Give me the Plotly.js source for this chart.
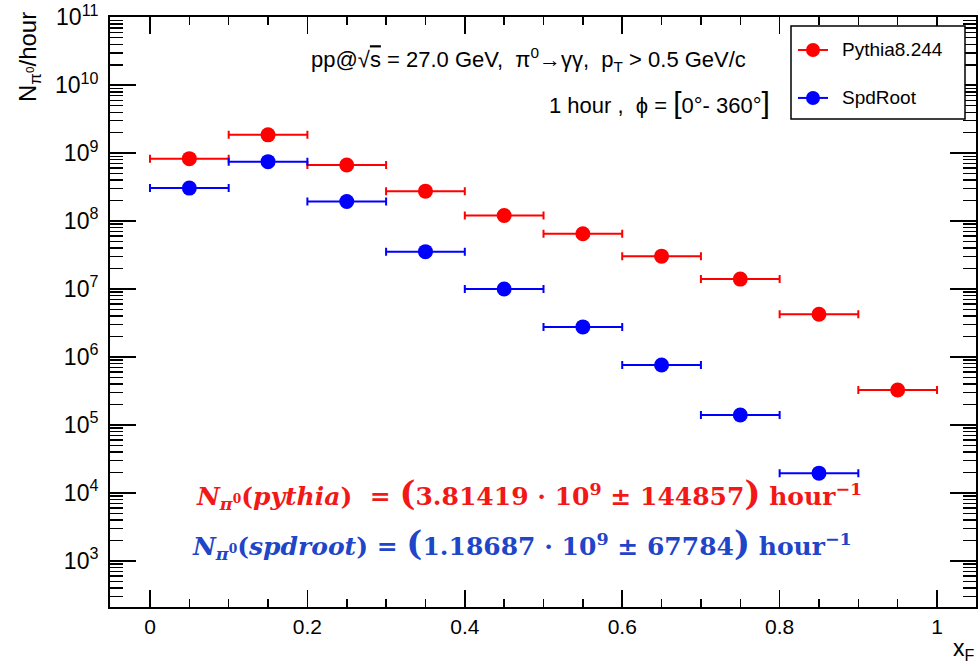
<!DOCTYPE html>
<html>
<head>
<meta charset="utf-8">
<script src="https://cdn.plot.ly/plotly-3.0.1.min.js"></script>
<style>html,body{margin:0;padding:0;background:#fff;}</style>
</head>
<body>
<div id="chart" style="width:979px;height:664px;"></div>
<script>
// ---- data ----
const xF = [0.05, 0.15, 0.25, 0.35, 0.45, 0.55, 0.65, 0.75, 0.85, 0.95];
const binHalfWidth = 0.05;
const pythia = [8.3e8, 1.86e9, 6.7e8, 2.76e8, 1.21e8, 6.5e7, 3.05e7, 1.4e7, 4.25e6, 3.27e5];
const xFspd = [0.05, 0.15, 0.25, 0.35, 0.45, 0.55, 0.65, 0.75, 0.85];
const spdroot = [3.06e8, 7.5e8, 1.94e8, 3.55e7, 1.0e7, 2.77e6, 7.6e5, 1.4e5, 1.95e4];
const seriesNames = ["Pythia8.244", "SpdRoot"];
const xTickVals = [0, 0.2, 0.4, 0.6, 0.8, 1];
const xTickText = ["0", "0.2", "0.4", "0.6", "0.8", "1"];
const yExponents = [3, 4, 5, 6, 7, 8, 9, 10, 11];
const yTickVals = yExponents.map(e => Math.pow(10, e));
const yTickText = yExponents.map(e => '10<sup>' + e + '</sup>');

// ---- layout geometry ----
const W = 979, H = 664;
const M = {l: 110, r: 3, t: 17, b: 56.5};
const PW = W - M.l - M.r, PH = H - M.t - M.b;
const px = x => (x - M.l) / PW;
const py = y => (H - M.b - y) / PH;

const FONT = '"Liberation Sans", Arial, sans-serif';
const SERIF = '"DejaVu Serif", "Liberation Serif", serif';
const RED = '#ff0000', BLUE = '#0000ff';

function series(x, y, color, name) {
  return {
    type: 'scatter', mode: 'markers', name: name, showlegend: false,
    x: x, y: y,
    marker: {color: color, size: 15, symbol: 'circle'},
    error_x: {type: 'constant', value: binHalfWidth, color: color, thickness: 2, width: 4}
  };
}

const traces = [
  series(xF, pythia, RED, seriesNames[0]),
  series(xFspd, spdroot, BLUE, seriesNames[1])
];

// manual ROOT-style legend
const legBox = {x0: px(791), x1: px(965), y0: py(119), y1: py(26)};
const legRows = [{y: 50, c: RED, t: seriesNames[0]}, {y: 98, c: BLUE, t: seriesNames[1]}];
const shapes = [{type: 'rect', xref: 'paper', yref: 'paper', x0: legBox.x0, x1: legBox.x1, y0: legBox.y0, y1: legBox.y1,
  line: {color: '#000', width: 1.5}, fillcolor: '#fff', layer: 'above'}];
const annotations = [];
legRows.forEach(r => {
  shapes.push({type: 'line', xref: 'paper', yref: 'paper', x0: px(798), x1: px(828), y0: py(r.y), y1: py(r.y),
    line: {color: r.c, width: 2}, layer: 'above'});
  shapes.push({type: 'circle', xref: 'paper', yref: 'paper', x0: px(806), x1: px(820), y0: py(r.y + 7), y1: py(r.y - 7),
    line: {color: r.c, width: 0}, fillcolor: r.c, layer: 'above'});
  annotations.push({xref: 'paper', yref: 'paper', x: px(840), y: py(r.y), xanchor: 'left', yanchor: 'middle',
    text: r.t, showarrow: false, font: {family: FONT, size: 19, color: '#000'}});
});

annotations.push(
  {xref: 'paper', yref: 'paper', x: px(29), y: py(10), xanchor: 'center', yanchor: 'top', textangle: -90,
   text: 'N<sub>π<sup>0</sup></sub>/hour', showarrow: false, font: {family: FONT, size: 24, color: '#000'}},
  {xref: 'paper', yref: 'paper', x: px(977), y: py(650), xanchor: 'right', yanchor: 'middle',
   text: 'x<sub>F</sub>', showarrow: false, font: {family: FONT, size: 23, color: '#000'}},
  {xref: 'paper', yref: 'paper', x: px(528), y: py(60), xanchor: 'center', yanchor: 'middle',
   text: 'pp@√<span style="text-decoration:overline">s</span> = 27.0 GeV,  π<sup>0</sup>→γγ,  p<sub>T</sub> > 0.5 GeV/c',
   showarrow: false, font: {family: FONT, size: 22, color: '#000'}},
  {xref: 'paper', yref: 'paper', x: px(772), y: py(103), xanchor: 'right', yanchor: 'middle',
   text: '1 hour ,  ϕ = <span style="font-size:30px">[</span>0°- 360°<span style="font-size:30px">]</span>',
   showarrow: false, font: {family: FONT, size: 22, color: '#000'}},
  {xref: 'paper', yref: 'paper', x: px(529), y: py(494), xanchor: 'center', yanchor: 'middle',
   text: '<b><i>N</i><sub><i>π</i><sup>0</sup></sub>(<i>pythia</i>)  = <span style="font-size:34px">(</span>3.81419 · 10<sup>9</sup> ± 144857<span style="font-size:34px">)</span> hour<sup>−1</sup></b>',
   showarrow: false, font: {family: SERIF, size: 25, color: '#f21818'}},
  {xref: 'paper', yref: 'paper', x: px(522), y: py(544), xanchor: 'center', yanchor: 'middle',
   text: '<b><i>N</i><sub><i>π</i><sup>0</sup></sub>(<i>spdroot</i>) = <span style="font-size:34px">(</span>1.18687 · 10<sup>9</sup> ± 67784<span style="font-size:34px">)</span> hour<sup>−1</sup></b>',
   showarrow: false, font: {family: SERIF, size: 25, color: '#1f45c8'}}
);

const layout = {
  width: W, height: H,
  margin: M,
  paper_bgcolor: '#fff', plot_bgcolor: '#fff',
  showlegend: false,
  font: {family: FONT, size: 20, color: '#000'},
  xaxis: {
    range: [-0.0508, 1.0495], showgrid: false, zeroline: false,
    showline: true, linecolor: '#000', linewidth: 2, mirror: 'allticks',
    ticks: 'inside', ticklen: 17, tickwidth: 1.5, tickcolor: '#000',
    tickmode: 'array', tickvals: xTickVals, ticktext: xTickText,
    tickfont: {family: FONT, size: 21},
    minor: {ticks: 'inside', ticklen: 8, tickwidth: 1.5, tickcolor: '#000', dtick: 0.05, tick0: 0, showgrid: false}
  },
  yaxis: {
    type: 'log', range: [2.32, 11.004], showgrid: false, zeroline: false,
    showline: true, linecolor: '#000', linewidth: 2, mirror: 'allticks',
    ticks: 'inside', ticklen: 26, tickwidth: 1.5, tickcolor: '#000',
    tickmode: 'array', tickvals: yTickVals, ticktext: yTickText,
    ticklabeloverflow: 'allow', ticklabelstandoff: 5,
    tickfont: {family: FONT, size: 23},
    minor: {ticks: 'inside', ticklen: 13, tickwidth: 1.5, tickcolor: '#000', dtick: 'D1', showgrid: false}
  },
  shapes: shapes,
  annotations: annotations
};

Plotly.newPlot('chart', traces, layout, {displayModeBar: false, staticPlot: true});
</script>
</body>
</html>
